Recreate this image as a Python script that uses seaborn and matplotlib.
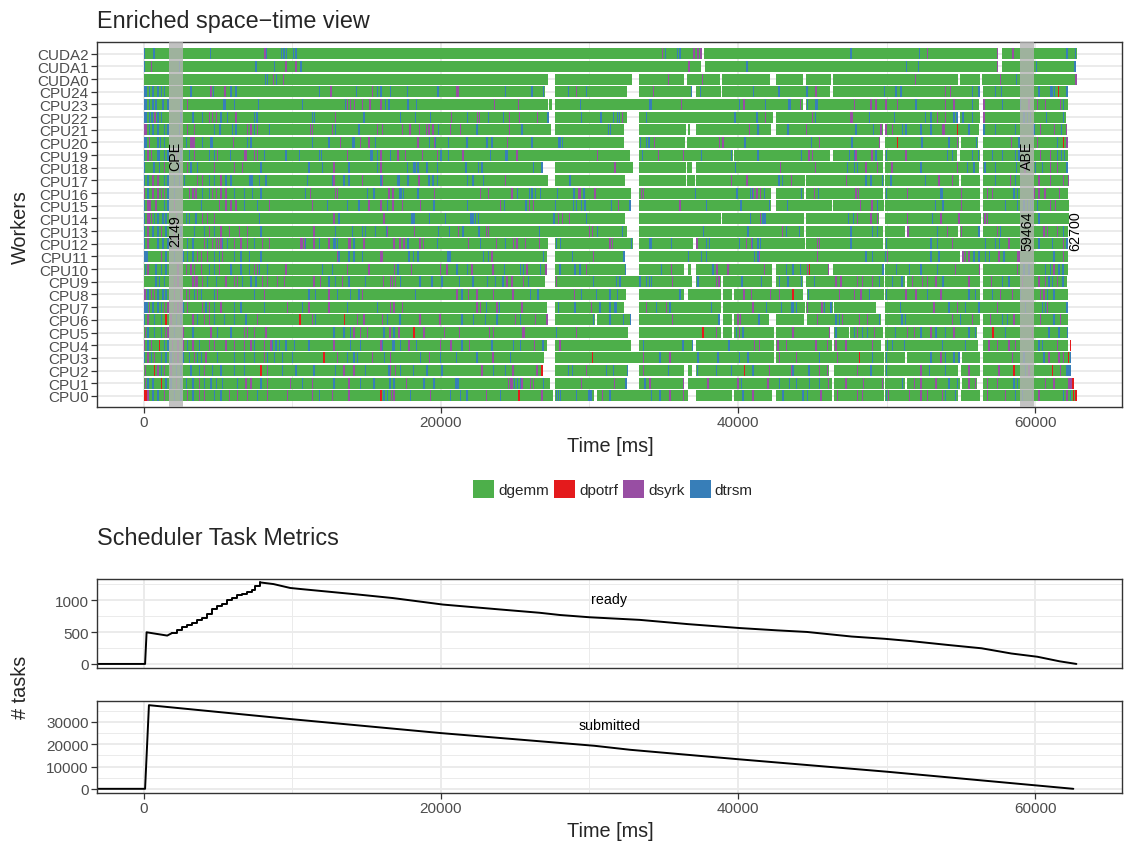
import matplotlib
matplotlib.use("Agg")
import matplotlib.pyplot as plt
from matplotlib.patches import Patch
import seaborn as sns

# =============================================================================
#                               DATA
# =============================================================================
workers = ["CPU0", "CPU1", "CPU2", "CPU3", "CPU4", "CPU5", "CPU6", "CPU7", "CPU8",
           "CPU9", "CPU10", "CPU11", "CPU12", "CPU13", "CPU14", "CPU15", "CPU16",
           "CPU17", "CPU18", "CPU19", "CPU20", "CPU21", "CPU22", "CPU23", "CPU24",
           "CUDA0", "CUDA1", "CUDA2"]

kernels = ["dgemm", "dpotrf", "dsyrk", "dtrsm"]
kernel_colors = ["#4DAF4A", "#E41A1C", "#984EA3", "#377EB8"]

# last busy instant of each worker [ms]
end_ms = {
    "CUDA2": 62820, "CUDA1": 62730, "CUDA0": 62815,
    "CPU24": 62210, "CPU23": 62210, "CPU22": 62100, "CPU21": 62165, "CPU20": 62210,
    "CPU19": 62210, "CPU18": 62210, "CPU17": 62280, "CPU16": 62210, "CPU15": 62255,
    "CPU14": 62255, "CPU13": 62210, "CPU12": 62210, "CPU11": 62210, "CPU10": 62210,
    "CPU9": 62165, "CPU8": 62210, "CPU7": 62210, "CPU6": 62210, "CPU5": 62210,
    "CPU4": 62435, "CPU3": 62435, "CPU2": 62435, "CPU1": 62600, "CPU0": 62815,
}

# idle periods (white holes in the rows) [ms]
idle = {
    "CUDA2": [(37560, 37720), (57510, 57740)],
    "CUDA1": [(37510, 37780), (57510, 57740)],
    "CUDA0": [(27180, 27650), (32885, 33355), (36370, 36575), (38810, 38920), (42145, 42525),
              (44360, 44540), (46285, 46375), (54785, 54940), (56305, 56440)],
    "CPU24": [(26980, 27650), (32525, 33355), (36930, 37200), (38855, 38920), (46215, 46395),
              (56305, 56460)],
    "CPU23": [(27200, 27270), (27450, 27650), (44380, 44540), (56240, 56460)],
    "CPU22": [(27270, 27650), (32505, 33355), (42370, 42570), (54785, 54920), (56305, 56460)],
    "CPU21": [(27425, 27650), (32350, 33355), (36530, 36600), (36750, 37200), (42190, 42525),
              (49730, 49860), (56215, 56460)],
    "CPU20": [(32350, 33355), (36440, 36575), (49570, 49860), (54875, 54985), (56125, 56460)],
    "CPU19": [(32750, 33355), (39660, 39750), (46215, 46375), (49730, 49860), (54720, 54940),
              (56305, 56460)],
    "CPU18": [(26870, 27650), (32950, 33355), (36510, 36575), (36930, 37180), (49730, 49910),
              (56240, 56460)],
    "CPU17": [(27180, 27650), (32415, 33355), (36510, 36575), (37110, 37180), (44495, 44585),
              (49795, 49910), (54875, 54985), (56285, 56460)],
    "CPU16": [(32795, 33355), (42190, 42570), (44430, 44585), (49730, 49860), (56305, 56460)],
    "CPU15": [(32795, 33355), (42190, 42570), (46330, 46395), (49795, 49910), (56305, 56460)],
    "CPU14": [(32415, 33355), (38880, 38950), (44430, 44540), (49460, 49910), (56350, 56460)],
    "CPU13": [(32525, 33355), (44430, 44540), (49730, 49910), (51250, 51360), (54830, 54965),
              (56305, 56460)],
    "CPU12": [(27200, 27650), (32905, 33355), (36980, 37160), (44495, 44585), (49730, 49910)],
    "CPU11": [(27155, 27650), (32390, 33355), (54940, 55050)],
    "CPU10": [(27155, 27650), (32460, 33355), (36375, 36600), (36820, 37160), (42300, 42525),
              (46150, 46395), (49795, 49860), (56285, 56460)],
    "CPU9": [(26980, 27650), (36930, 37200), (38835, 38990), (42300, 42570), (44360, 44585),
             (49795, 49910), (51250, 51360), (56285, 56460)],
    "CPU8": [(32460, 33355), (36375, 36600), (38835, 38990), (39620, 39730), (44360, 44650),
             (49795, 49860), (56285, 56460)],
    "CPU7": [(27155, 27650), (32350, 33355), (38835, 38990), (44495, 44585), (46375, 46485),
             (49280, 49860)],
    "CPU6": [(27245, 27650), (30400, 30490), (32795, 33355), (38770, 38990), (39620, 39750),
             (42080, 42525), (44430, 44650), (49640, 49860), (56285, 56460)],
    "CPU5": [(32615, 33355), (38835, 38990), (39620, 39750), (42415, 42570), (46215, 46440),
             (47445, 47560), (49730, 49860), (56060, 56460)],
    "CPU4": [(27155, 27650), (32795, 33355), (36975, 37160), (42415, 42570), (46330, 46465),
             (49640, 49860), (56170, 56460), (62230, 62320)],
    "CPU3": [(26910, 27650), (42415, 42525), (49795, 49910), (51250, 51360), (54940, 55050),
             (56285, 56460)],
    "CPU2": [(26850, 27650), (32620, 33355), (36375, 36600), (36930, 37160), (46105, 46440),
             (49795, 49910), (54830, 55010), (56285, 56460)],
    "CPU1": [(27315, 27650), (32525, 33355), (36375, 36600), (46330, 46440), (49795, 49910),
             (51250, 51360), (54940, 55050), (56060, 56460), (62440, 62500)],
    "CPU0": [(27580, 27690), (30335, 30490), (36600, 37160), (39620, 39730), (42300, 42525),
             (46330, 46440), (49795, 49910), (54830, 55010), (56285, 56460)],
}

# start times of the short non-dgemm tasks [ms]
dtrsm = {
    "CUDA2": [20, 650, 4450, 8210, 9240, 9400, 9560, 10040, 10220, 35075, 35880, 36040, 47560,
              52145, 62100, 62660],
    "CUDA1": [20, 2370, 7520, 8750, 10540, 40560, 51295, 52080, 60020, 62620],
    "CUDA0": [8180, 8290, 8920, 58675],
    "CPU24": [20, 110, 360, 580, 920, 1140, 1360, 3110, 3200, 4650, 5840, 6180, 11770, 14300,
              15700, 15920, 16590, 17695, 19710, 19800, 24290, 26085, 26870, 28545, 29775,
              36820, 37425, 41005, 42705, 44585, 49795, 50580, 50915, 55725, 56170, 57290,
              57690, 60200, 60980, 61070, 61270, 62100],
    "CPU23": [20, 110, 360, 580, 800, 1250, 1590, 2480, 5350, 5440, 6060, 7700, 10650, 13560,
              16250, 16470, 17740, 18320, 29370, 34025, 34115, 40065, 41810, 43375, 43460,
              44650, 45210, 45300, 51920, 55725, 57740, 58970, 61875],
    "CPU22": [20, 110, 360, 510, 920, 1140, 2480, 3270, 3940, 5170, 5620, 7410, 7590, 11320,
              11470, 14790, 17245, 18255, 19260, 21765, 23175, 24180, 27170, 29440, 30735,
              31565, 31830, 31970, 33800, 39750, 41230, 45165, 48790, 50465, 52590, 52930,
              54495, 54680, 55100, 55725, 59190, 59420, 59640, 60690, 61875],
    "CPU21": [360, 580, 920, 1360, 1590, 2370, 4720, 5100, 5950, 6180, 7410, 8410, 12890,
              14450, 19820, 22390, 25410, 31230, 31385, 41300, 43310, 47895, 49060, 51025,
              51250, 52260, 52930, 55500, 56505, 57290, 58630, 59860, 61720],
    "CPU20": [20, 110, 920, 1100, 1360, 2820, 3940, 4500, 4610, 6960, 7180, 11320, 12440,
              14000, 14120, 15570, 19215, 19600, 20490, 21720, 23020, 23100, 23400, 26085,
              27870, 27985, 28160, 33400, 33800, 33960, 40400, 40470, 44875, 47625, 52325,
              54160, 56000, 58855, 61430],
    "CPU19": [20, 920, 1030, 1360, 1590, 2480, 3040, 4390, 4720, 5790, 8080, 9530, 10430,
              11770, 11920, 15230, 15320, 15680, 16590, 19975, 20490, 23285, 24315, 24400,
              33510, 37490, 39505, 41295, 44205, 47445, 47780, 49235, 49955, 54045, 54380,
              55725, 56125, 57065, 57740, 58630, 58850, 61430, 61720, 61940],
    "CPU18": [20, 650, 1030, 2370, 3150, 3600, 7850, 11090, 11990, 13780, 15680, 17695, 18140,
              18255, 18410, 19035, 19710, 21655, 22505, 22730, 26195, 26760, 39775, 47335,
              47780, 48005, 52260, 55390, 55835, 56575, 57290, 58675, 59975, 60420, 62100],
    "CPU17": [20, 250, 1360, 1590, 2040, 2370, 2710, 4390, 4720, 5500, 5840, 7070, 7180, 7290,
              7740, 8190, 10980, 12660, 13440, 13780, 15920, 17140, 17025, 17740, 19150, 19440,
              19750, 21765, 22125, 22840, 28655, 42705, 42930, 48565, 48900, 49685, 50245,
              52590, 57290, 58630],
    "CPU16": [250, 1590, 2040, 3940, 4390, 6060, 6730, 7290, 7850, 10870, 15010, 15460, 17200,
              17310, 17425, 18410, 25120, 25925, 26085, 26305, 26640, 27805, 28925, 29595,
              37110, 39885, 40800, 40915, 41745, 44205, 45390, 49955, 53600, 53710, 58520,
              58745],
    "CPU15": [20, 1360, 1590, 3830, 6730, 7630, 12320, 13670, 14450, 16350, 19485, 21765,
              24225, 25680, 27650, 28880, 29105, 29440, 29665, 31450, 32680, 37830, 40110,
              40175, 42080, 43265, 49350, 53220, 53755, 57960, 58745, 59190, 59420, 59640,
              59750, 60085],
    "CPU14": [20, 690, 920, 1250, 1470, 2820, 3040, 3490, 7740, 13110, 17960, 18050, 18140,
              19215, 20265, 21990, 22125, 22280, 22505, 27580, 29775, 40780, 41630, 41720,
              41810, 47400, 47740, 53040, 60200],
    "CPU13": [20, 580, 920, 1470, 2480, 3380, 4050, 4720, 7850, 12890, 14000, 14680, 14900,
              15570, 16310, 19820, 20560, 21450, 22525, 26600, 30490, 32170, 37650, 40625,
              43195, 44090, 47560, 49015, 49350, 53375, 56170, 57625, 61875],
    "CPU12": [20, 920, 1250, 1590, 2930, 3270, 4270, 5280, 5620, 7410, 10870, 11770, 12770,
              12890, 13000, 14120, 17740, 19750, 22615, 24290, 27760, 28030, 32800, 34025,
              34135, 35480, 37830, 38050, 40065, 40915, 41295, 41450, 47560, 49960, 52930,
              53375, 56620, 57290, 57560, 60200, 61095, 62100],
    "CPU11": [20, 110, 200, 1470, 2040, 2600, 2930, 3270, 4720, 5060, 6060, 6510, 7070, 7850,
              13110, 13780, 14120, 14680, 17805, 18095, 18410, 20425, 20510, 20600, 22840,
              23175, 26870, 28835, 32290, 36600, 37490, 37830, 41070, 41295, 48565, 49015,
              49860, 52930, 53485, 55835, 56170, 56620, 56885, 57850, 61205],
    "CPU10": [70, 800, 1140, 1470, 4390, 4720, 5840, 6510, 7070, 7740, 8300, 11990, 12660,
              17070, 21050, 21765, 24225, 25300, 25525, 26640, 27985, 28990, 29330, 32360,
              34810, 38275, 43195, 43645, 44135, 49700, 50625, 51475, 52260, 53375, 59190,
              59525, 60645, 60980, 61540, 61810],
    "CPU9": [800, 1030, 1360, 4270, 4840, 6620, 7180, 7520, 12440, 12890, 13780, 14900, 17245,
             18545, 19370, 20040, 21230, 22125, 23110, 23620, 24135, 25860, 30220, 31785,
             32010, 33355, 33800, 33980, 34135, 37270, 40180, 40245, 41520, 42750, 43310,
             44205, 45100, 49460, 50355, 50980, 53755, 57740, 58185, 60870, 61095, 61810],
    "CPU8": [250, 920, 1250, 1470, 3380, 3830, 4720, 7410, 11090, 11540, 13000, 13890, 14450,
             18255, 21385, 25970, 26485, 29440, 30445, 31340, 31830, 36040, 44700, 48790,
             49960, 52705, 55500, 55950, 57065, 58970, 60760, 61205],
    "CPU7": [20, 110, 200, 580, 920, 1140, 2600, 4160, 4720, 6060, 6510, 8080, 10650, 13670,
             15680, 23020, 23915, 27870, 28990, 30670, 31340, 31675, 31790, 34470, 35365,
             38160, 41855, 42860, 43530, 43645, 43870, 45770, 46215, 50870, 54160, 55275,
             56170, 59300, 60420, 60645, 62100],
    "CPU6": [20, 690, 1140, 2150, 2480, 3600, 4720, 5390, 6060, 6850, 11540, 16350, 17200,
             21385, 22170, 22950, 23735, 25300, 30220, 31340, 32235, 32700, 38680, 41360,
             46550, 46775, 49460, 50980, 51205, 54940, 57740, 58075, 61205],
    "CPU5": [250, 690, 1140, 2040, 3270, 4940, 5840, 12770, 13440, 13890, 16130, 16800, 27760,
             39840, 40290, 46550, 47780, 48340, 48680, 50535, 52260, 53265, 53935, 55500,
             55950, 57960, 60870, 61540, 62110],
    "CPU4": [250, 1360, 1590, 2930, 3710, 7410, 8630, 8860, 9080, 9530, 10090, 11090, 13890,
             14560, 16015, 16690, 16800, 17245, 18320, 21385, 23400, 24855, 25300, 26820,
             33575, 36260, 36880, 39350, 50020, 50355, 51135, 53710, 55275, 60200, 60420],
    "CPU3": [20, 470, 1140, 1470, 1810, 2600, 3040, 3600, 3830, 4940, 6060, 6730, 7410, 8300,
             8750, 9310, 9980, 13670, 14120, 14340, 16175, 18590, 19930, 21005, 22390, 24630,
             34695, 37270, 38610, 40065, 40625, 45435, 49015, 49960, 52930, 53935, 54495,
             54830, 59190, 60535, 62320],
    "CPU2": [1140, 2150, 2480, 3150, 3710, 4610, 5170, 6060, 6730, 9310, 10200, 11430, 12890,
             14900, 16465, 17245, 18100, 19035, 20040, 23510, 24290, 28545, 28835, 31115,
             31565, 32520, 35255, 37240, 38500, 39505, 40960, 43645, 44720, 48900, 49960,
             52820, 53935, 59300, 62100, 62200, 62300],
    "CPU1": [250, 580, 1470, 1810, 2480, 2820, 3270, 4050, 4500, 4840, 5280, 6290, 7850,
             10650, 12770, 14560, 15460, 16530, 16800, 18815, 19485, 20940, 21050, 21160,
             24900, 25100, 25300, 26870, 32420, 33690, 40180, 42750, 43420, 43870, 44765,
             45435, 51025, 54160, 54720, 58520, 58745],
    "CPU0": [580, 920, 2040, 2480, 3270, 4720, 5170, 7630, 11770, 16130, 16350, 17920, 20600,
             21275, 21720, 23960, 27760, 27870, 27990, 29105, 29885, 30000, 30110, 31340,
             34135, 34695, 40290, 42970, 44315, 44650, 49960, 53935, 54605, 58630, 59080,
             61875, 62320],
}

dsyrk = {
    "CUDA2": [8120, 34875, 36980, 37270, 37460, 52705, 57400, 58450],
    "CUDA1": [470, 9530, 10220, 36665, 57400],
    "CUDA0": [8700, 9360, 35255, 37560, 51875, 57625, 62700],
    "CPU24": [4500, 5440, 12560, 15360, 21050, 21160, 29105, 34250, 45165, 45255, 53935, 54270],
    "CPU23": [2890, 13670, 13890, 14160, 14680, 15200, 15920, 23580, 25190, 36150, 40355,
              44160, 47780, 48900, 49235, 49910, 50690, 53935, 54495, 56505, 59525, 60085,
              60645, 61650],
    "CPU22": [730, 4390, 4610, 4840, 6180, 12890, 20670, 22440, 22550, 24585, 25255, 26465,
              32190, 41810, 44985, 47560, 47670, 53375, 53935, 56505],
    "CPU21": [60, 160, 2930, 3380, 6960, 7180, 7630, 11200, 11330, 12660, 15680, 16020, 17360,
              17875, 18500, 18990, 19150, 19440, 20600, 21275, 24585, 40735, 44540, 49570,
              49910, 50355, 53710, 53820, 60310, 61270, 62060],
    "CPU20": [360, 3150, 3270, 3380, 6020, 13220, 14560, 15120, 18410, 19530, 24450, 34315,
              38720, 38945, 45435, 49470, 54700, 58365, 60085, 62100],
    "CPU19": [250, 470, 2150, 3380, 4940, 6730, 6850, 7410, 7630, 13670, 15920, 17070, 17580,
              18700, 19750, 21450, 25075, 30490, 34585, 36305, 44720, 44985, 47895, 48970,
              51250, 60310, 60980],
    "CPU18": [1360, 2930, 4720, 6060, 6620, 12770, 15920, 31675, 42815, 45165, 48565, 49350,
              50310, 54720, 59255, 60980, 61430],
    "CPU17": [580, 920, 3600, 3940, 5170, 12770, 14680, 15950, 16020, 18480, 24290, 39505,
              40560, 43530, 47270, 53485, 54380, 58295, 60200, 60980, 61875, 62180],
    "CPU16": [20, 580, 920, 1140, 1360, 3040, 3270, 3490, 4610, 4840, 5170, 5500, 11200,
              12890, 12990, 16470, 16730, 19550, 22615, 23175, 24740, 29215, 29330, 30335,
              33465, 33575, 41005, 41230, 41450, 45100, 47895, 48075, 51360, 55010, 56730,
              57065, 59860, 60200, 60600, 61585],
    "CPU15": [200, 310, 420, 800, 2040, 5060, 5500, 5840, 6180, 8410, 11320, 15120, 15920,
              16730, 17360, 18590, 23960, 25905, 26195, 31900, 36040, 48185, 48970, 55010,
              60980, 61315],
    "CPU14": [250, 360, 470, 1700, 2150, 3940, 4270, 4720, 12770, 16130, 27870, 28160, 28610,
              41450, 48005, 48900, 49350, 51360, 53600, 54830, 56575, 56730],
    "CPU13": [250, 1140, 2040, 4390, 5170, 5730, 6400, 6960, 11430, 16350, 18185, 21160,
              23020, 23175, 29955, 30175, 42930, 51400, 54045, 55000, 57400, 60535, 60760,
              61430],
    "CPU12": [250, 1920, 2260, 4050, 4610, 4840, 5000, 5170, 6060, 6510, 6960, 7960, 8410,
              10540, 10650, 10760, 11430, 12440, 13780, 13890, 14790, 16800, 17200, 17470,
              18545, 18770, 21835, 23690, 24855, 25075, 25635, 26600, 31340, 31500, 37200,
              40510, 40850, 45320, 45435, 54380, 58185, 61875],
    "CPU11": [1140, 3600, 3830, 4270, 5280, 13000, 15920, 16015, 23400, 30220, 41410, 45320,
              50000, 55100, 55275, 55500, 57515, 58745, 58855, 61875],
    "CPU10": [250, 2260, 2820, 3150, 3380, 3830, 5060, 7410, 7630, 9530, 13670, 15120, 16845,
              17020, 17960, 19930, 20380, 22055, 23465, 25750, 27040, 29775, 35480, 38545,
              39280, 41745, 44650, 46040, 54605, 56180, 58745, 61205],
    "CPU9": [2040, 2260, 3270, 3490, 3600, 3940, 5500, 6060, 6290, 7960, 8300, 8970, 9420,
             11430, 11880, 13330, 16085, 16575, 16690, 16910, 24405, 24740, 25525, 27760,
             35525, 38500, 38680, 46550, 46890, 48005, 48340, 49015, 51700, 52370, 52705,
             53265, 55500, 57020, 59080, 60200, 60645, 61430],
    "CPU8": [20, 100, 470, 690, 1700, 2040, 2480, 2820, 3040, 3600, 4940, 8080, 12440, 14680,
             21050, 21835, 22395, 23510, 24810, 28945, 40355, 40850, 42125, 42750, 46775,
             47780, 48230, 51250, 51920, 53600, 57625, 58410, 60310, 60535],
    "CPU7": [360, 1360, 1590, 2040, 2260, 2480, 2930, 3940, 4390, 5170, 9640, 11090, 12440,
             16590, 16800, 17360, 22390, 22615, 23735, 25410, 30110, 33800, 35140, 40960,
             44650, 45615, 53150, 54720, 57400, 60760],
    "CPU6": [250, 1810, 3270, 4050, 4390, 7630, 11320, 14340, 14790, 16020, 18545, 19890,
             24965, 26305, 27090, 35545, 39950, 40110, 45320, 47000, 48120, 48680, 54380,
             55725, 56955, 58520, 60310, 61650],
    "CPU5": [70, 1410, 1590, 2600, 4500, 6730, 6960, 7410, 8190, 14120, 14560, 15010, 16530,
             17135, 18815, 20220, 21230, 23240, 23510, 25480, 25570, 29105, 38500, 40065,
             43645, 46100, 48005, 49125, 51360, 51810, 52930, 54495, 59750],
    "CPU4": [20, 470, 1920, 2260, 2600, 3270, 4390, 4720, 5500, 6060, 6730, 7180, 8080, 8520,
             12770, 15920, 17805, 19930, 20650, 21900, 26240, 27985, 41070, 41410, 42640,
             43195, 45210, 45995, 46550, 47225, 49015, 56840, 57400, 58185, 58630, 61430],
    "CPU3": [250, 690, 2040, 2260, 3380, 4160, 8080, 13000, 15350, 16575, 19215, 23465, 33575,
             35365, 42750, 43870, 46665, 53600, 58410, 60870, 61540, 61875],
    "CPU2": [70, 920, 1360, 1810, 4050, 8300, 13440, 14120, 16470, 16575, 16910, 22730, 24810,
             26420, 29775, 33575, 42080, 43530, 45435, 45995, 48005, 52260, 55500, 57515,
             59525, 61650],
    "CPU1": [70, 2150, 3710, 6850, 7180, 8300, 9860, 11320, 13780, 17650, 24520, 24630, 24740,
             25410, 25970, 26195, 29440, 31630, 34025, 36305, 37940, 39955, 41965, 46040,
             47225, 48385, 49685, 51810, 52260, 53265, 55500, 55950, 56730, 57400, 60645,
             61205, 62170, 62260, 62350],
    "CPU0": [250, 1360, 1700, 2930, 3710, 4050, 5730, 6290, 6960, 8300, 9640, 11320, 12660,
             13780, 16620, 16800, 19260, 23020, 26755, 30850, 35365, 36305, 40960, 45545,
             46665, 48005, 48340, 50080, 51475, 52260, 52705, 53710, 56730, 57960, 59750,
             60200, 62100],
}

dpotrf = {
    "CPU24": [61495], "CPU21": [54700], "CPU20": [50690, 61875], "CPU10": [44765],
    "CPU8": [43645], "CPU6": [1470, 10470, 13490], "CPU5": [18140, 37605, 57110],
    "CPU4": [1030, 62330], "CPU3": [12100, 30155, 48120, 62210],
    "CPU2": [690, 7850, 26760, 40400, 58520, 61095], "CPU1": [1140, 62500],
    "CPU0": [20, 110, 15920, 25210, 62545, 62645, 62715],
}

# phase markers [ms]
marker_names = ["CPE", "ABE"]
marker_ms = [2149, 59464]
makespan_ms = 62700

# scheduler metrics: "ready" = start, staircase climb, slow drain
ready_start_t = [-3135, 100, 202, 918, 1589, 1924]
ready_start_n = [0, 0, 498, 471, 446, 487]
ready_climb_t = [1924, 2260, 2595, 2930, 3266, 3602, 3937, 4273, 4609, 4944, 5280, 5615,
                 5951, 6286, 6622, 6957, 7293, 7517, 7852]
ready_climb_n = [487, 528, 574, 615, 651, 692, 728, 784, 871, 907, 938, 1000, 1041, 1077,
                 1102, 1128, 1164, 1230, 1282]
ready_drain_t = [7852, 8747, 9866, 10537, 14380, 16780, 20140, 23970, 26640, 28000, 30015,
                 33390, 36640, 40140, 42640, 44640, 47640, 49890, 51640, 54140, 56390,
                 58390, 60140, 61640, 62765]
ready_drain_n = [1282, 1256, 1195, 1179, 1093, 1036, 934, 857, 805, 770, 734, 693, 626, 564,
                 528, 503, 431, 395, 359, 298, 246, 164, 113, 41, 0]

submitted_t = [-3135, 100, 360, 10000, 19980, 30330, 32740, 39950, 50050, 62560]
submitted_n = [0, 0, 37500, 31200, 25000, 19300, 17500, 13300, 7650, 0]

# =============================================================================
#                               PLOT
# =============================================================================
sns.set_theme(style="white")
plt.rcParams["font.family"] = ["Liberation Sans", "DejaVu Sans"]

GRID = "#EBEBEB"
FRAME = "#333333"
TICKTXT = "#4D4D4D"
W, H = 1124, 845
XLIM = (-3135, 65835)
STRIPE = 90
BAR_H = 0.87

fig = plt.figure(figsize=(W / 100, H / 100), dpi=100)


def px_axes(left, top, right, bottom):
    return fig.add_axes([left / W, 1 - bottom / H, (right - left) / W, (bottom - top) / H])


def style_panel(ax):
    for s in ax.spines.values():
        s.set_color(FRAME)
        s.set_linewidth(1.0)
    ax.tick_params(colors=FRAME, labelcolor=TICKTXT, labelsize=11, length=4, width=0.9,
                   left=True, bottom=True, pad=2)
    ax.set_xlim(*XLIM)


def busy(w):
    segs = []
    t = 0
    for a, b in sorted(idle.get(w, [])):
        segs.append((t, a))
        t = b
    segs.append((t, end_ms[w]))
    return segs


def clip_stripes(w, starts):
    out = []
    for s in starts:
        for a, b in busy(w):
            lo, hi = max(s, a), min(s + STRIPE, b)
            if hi > lo:
                out.append((lo, hi - lo))
    return out


# ---------------------------------------------------------------- space-time
ax = px_axes(97, 43, 1122, 408)
style_panel(ax)
for y in range(len(workers)):
    ax.axhline(y, color=GRID, lw=1.4, zorder=0)
for x in (0, 20000, 40000, 60000):
    ax.axvline(x, color=GRID, lw=1.4, zorder=0)
for x in (10000, 30000, 50000):
    ax.axvline(x, color=GRID, lw=0.7, zorder=0)

for y, w in enumerate(workers):
    segs = [(a, b - a) for a, b in busy(w)]
    ax.broken_barh(segs, (y - BAR_H / 2, BAR_H), facecolors=kernel_colors[0], lw=0, zorder=1)
    for table, col in ((dsyrk, kernel_colors[2]), (dtrsm, kernel_colors[3]),
                       (dpotrf, kernel_colors[1])):
        pieces = clip_stripes(w, table.get(w, []))
        if pieces:
            ax.broken_barh(pieces, (y - BAR_H / 2, BAR_H), facecolors=col, lw=0, zorder=2)

for name, t in zip(marker_names, marker_ms):
    ax.axvspan(t - 470, t + 470, color="#B3B3B3", alpha=0.8, lw=0, zorder=3)
    ax.text(t, 19.0, name, rotation=90, ha="center", va="center", fontsize=10.3,
            color="black", zorder=4)
    ax.text(t, 13.1, str(t), rotation=90, ha="center", va="center", fontsize=10.3,
            color="black", zorder=4)
ax.text(makespan_ms, 13.1, str(makespan_ms), rotation=90, ha="center", va="center",
        fontsize=10.3, color="black", zorder=4)

ax.set_ylim(-0.88, 27.93)
ax.set_yticks(range(len(workers)))
ax.set_yticklabels(workers)
ax.set_xticks([0, 20000, 40000, 60000])
ax.set_xticklabels(["0", "20000", "40000", "60000"])
ax.grid(False)

fig.text(97 / W, 1 - 28 / H, "Enriched space\u2212time view", fontsize=16.8,
         ha="left", va="baseline")
fig.text(610 / W, 1 - 452 / H, "Time [ms]", fontsize=14.3, ha="center", va="baseline")
fig.text(20 / W, 1 - 227 / H, "Workers", fontsize=14.3, rotation=90,
         ha="center", va="center")

handles = [Patch(facecolor=c, edgecolor="none", label=k)
           for k, c in zip(kernels, kernel_colors)]
fig.legend(handles=handles, loc="center", bbox_to_anchor=(613 / W, 1 - 490 / H), ncol=4,
           frameon=False, fontsize=11, handlelength=1.37, handleheight=1.37,
           handletextpad=0.25, columnspacing=0.35, borderpad=0, borderaxespad=0)

fig.text(97 / W, 1 - 545 / H, "Scheduler Task Metrics", fontsize=16.8,
         ha="left", va="baseline")

# ---------------------------------------------------------------- metrics
ax2 = px_axes(97, 580, 1122, 669)
ax3 = px_axes(97, 702, 1122, 794)

for a, yl, major, minor in ((ax2, (-64, 1336), [0, 500, 1000], [250, 750, 1250]),
                            (ax3, (-1875, 39375), [0, 10000, 20000, 30000],
                             [5000, 15000, 25000, 35000])):
    style_panel(a)
    for v in major:
        a.axhline(v, color=GRID, lw=1.4, zorder=0)
    for v in minor:
        a.axhline(v, color=GRID, lw=0.7, zorder=0)
    for x in (0, 20000, 40000, 60000):
        a.axvline(x, color=GRID, lw=1.4, zorder=0)
    for x in (10000, 30000, 50000):
        a.axvline(x, color=GRID, lw=0.7, zorder=0)
    a.set_ylim(*yl)
    a.set_yticks(major)
    a.set_yticklabels([str(v) for v in major])
    a.grid(False)

sns.lineplot(x=ready_start_t, y=ready_start_n, ax=ax2, color="black", lw=1.4, zorder=2)
sns.lineplot(x=ready_climb_t, y=ready_climb_n, ax=ax2, color="black", lw=1.4, zorder=2,
             drawstyle="steps-post")
sns.lineplot(x=ready_drain_t, y=ready_drain_n, ax=ax2, color="black", lw=1.4, zorder=2)
sns.lineplot(x=submitted_t, y=submitted_n, ax=ax3, color="black", lw=1.4, zorder=2)
for a in (ax2, ax3):
    a.set_xlim(*XLIM)
    a.set_xlabel("")
    a.set_ylabel("")

ax2.set_xticks([0, 20000, 40000, 60000])
ax2.tick_params(bottom=False, labelbottom=False)
ax3.set_xticks([0, 20000, 40000, 60000])
ax3.set_xticklabels(["0", "20000", "40000", "60000"])

ax2.text(31350, 1016, "ready", ha="center", va="center", fontsize=10.3, color="black")
ax3.text(31350, 28700, "submitted", ha="center", va="center", fontsize=10.3, color="black")

fig.text(610 / W, 1 - 837 / H, "Time [ms]", fontsize=14.3, ha="center", va="baseline")
fig.text(20 / W, 1 - 687 / H, "# tasks", fontsize=14.3, rotation=90,
         ha="center", va="center")

fig.savefig("out.png", dpi=100)
